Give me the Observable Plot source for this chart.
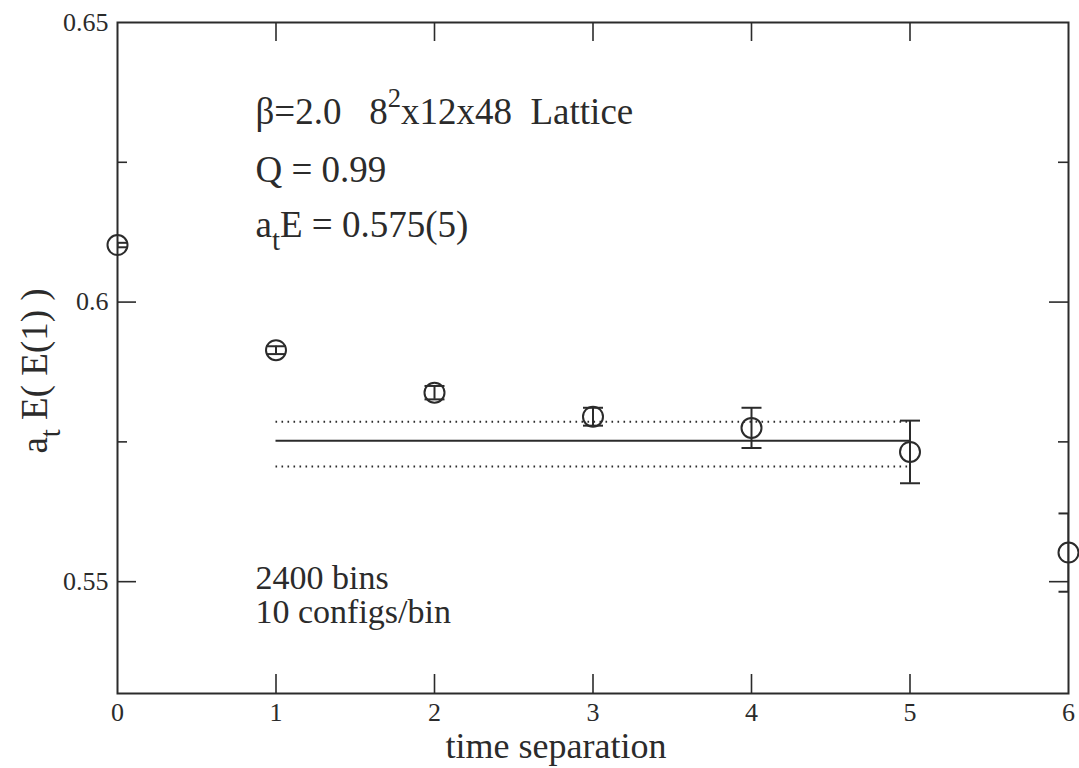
<!DOCTYPE html>
<html><head><meta charset="utf-8">
<script src="https://cdn.jsdelivr.net/npm/d3@7"></script>
<script src="https://cdn.jsdelivr.net/npm/@observablehq/plot@0.6"></script>
<style>
html,body{margin:0;padding:0;background:#fff;}
#chart{position:absolute;left:0;top:0;}
#chart svg, #chart svg text{font-family:"Liberation Serif", serif !important;}
</style></head><body><div id="chart"></div>
<script>
// ---- data ----
const times    = [0, 1, 2, 3, 4, 5, 6];
const energies = [0.6102, 0.5914, 0.5838, 0.5795, 0.5775, 0.5732, 0.5552];
const errors   = [0.0004, 0.0007, 0.0012, 0.0016, 0.0036, 0.0056, 0.0070];
const fitValue = [0.5752];
const fitBand  = [0.5706, 0.5786];
const fitRange = [1, 5];
const xTickValues = [0, 1, 2, 3, 4, 5, 6];
const xInnerTicks = [1, 2, 3, 4, 5];
const yMajorTicks = [0.55, 0.6, 0.65];
const yInnerMajor = [0.55, 0.6];
const yMinorTicks = [0.575, 0.625];
const xLabel = "time separation";
const yLabel = "a_{t} E( E(1) )";
const infoLines = ["\u03b2=2.0   8^{2}x12x48  Lattice", "Q = 0.99", "a_{t}E = 0.575(5)"];
const statLines = ["2400 bins", "10 configs/bin"];

const points = times.map((t, i) => ({t, v: energies[i], e: errors[i]}));

// ---- layout ----
const W = 1079, H = 768;
const mL = 117, mR = 11, mT = 22, mB = 75;
const innerW = W - mL - mR, innerH = H - mT - mB;
const ink = "#2b2b2b";
const serif = "Liberation Serif";
const infoDy = [90, 148, 203];
const statDy = [556, 590];

const capSymbol = {draw(ctx, size) { const r = Math.sqrt(size / Math.PI); ctx.moveTo(-r, 0); ctx.lineTo(r, 0); }};

const textOpts = {frameAnchor: "top-left", textAnchor: "start", lineAnchor: "middle", fill: ink, fontFamily: serif};

const chart = Plot.plot({
  width: W, height: H,
  marginLeft: mL, marginRight: mR, marginTop: mT, marginBottom: mB,
  style: {fontFamily: serif, background: "#fff", color: ink},
  x: {domain: [0, 6], axis: null},
  y: {domain: [0.53, 0.65], axis: null},
  marks: [
    // tick labels
    Plot.axisX(xTickValues, {anchor: "bottom", tickSize: 0, tickPadding: 9, fontSize: 26, fontFamily: serif, label: null, tickFormat: d => String(d), fill: ink}),
    Plot.axisY(yMajorTicks, {anchor: "left", tickSize: 0, tickPadding: 9, fontSize: 26, fontFamily: serif, label: null, tickFormat: d => String(d), fill: ink}),
    // inward ticks: bottom & top
    Plot.tickX(xInnerTicks, {x: d => d, insetTop: innerH - 19, stroke: ink, strokeWidth: 1.6}),
    Plot.tickX(xInnerTicks, {x: d => d, insetBottom: innerH - 19, stroke: ink, strokeWidth: 1.6}),
    // inward ticks: left & right (major and minor)
    Plot.tickY(yInnerMajor, {y: d => d, insetRight: innerW - 19, stroke: ink, strokeWidth: 1.6}),
    Plot.tickY(yInnerMajor, {y: d => d, insetLeft: innerW - 19, stroke: ink, strokeWidth: 1.6}),
    Plot.tickY(yMinorTicks, {y: d => d, insetRight: innerW - 10, stroke: ink, strokeWidth: 1.6}),
    Plot.tickY(yMinorTicks, {y: d => d, insetLeft: innerW - 10, stroke: ink, strokeWidth: 1.6}),
    // fit lines
    Plot.ruleY(fitValue, {y: d => d, x1: fitRange[0], x2: fitRange[1], stroke: ink, strokeWidth: 2}),
    Plot.ruleY(fitBand, {y: d => d, x1: fitRange[0], x2: fitRange[1], stroke: ink, strokeWidth: 2, strokeDasharray: "1.6,4.4"}),
    // error bars
    Plot.ruleX(points, {x: "t", y1: d => d.v - d.e, y2: d => d.v + d.e, stroke: ink, strokeWidth: 2, clip: true}),
    Plot.dot(points, {x: "t", y: d => d.v - d.e, symbol: capSymbol, r: 10, stroke: ink, strokeWidth: 2, clip: true}),
    Plot.dot(points, {x: "t", y: d => d.v + d.e, symbol: capSymbol, r: 10, stroke: ink, strokeWidth: 2, clip: true}),
    // points
    Plot.dot(points, {x: "t", y: "v", r: 10, stroke: ink, strokeWidth: 2, fill: "none"}),
    // frame
    Plot.frame({stroke: ink, strokeWidth: 2}),
    // annotations
    ...infoLines.map((s, i) => Plot.text([s], {...textOpts, text: d => d, dx: 138, dy: infoDy[i], fontSize: 37})),
    ...statLines.map((s, i) => Plot.text([s], {...textOpts, text: d => d, dx: 138, dy: statDy[i], fontSize: 34})),
    // axis titles
    Plot.text([xLabel], {text: d => d, frameAnchor: "bottom", textAnchor: "middle", lineAnchor: "middle",
      dx: -37, dy: 53, fontSize: 36, fill: ink, fontFamily: serif}),
    Plot.text([yLabel], {text: d => d, frameAnchor: "left", rotate: -90, textAnchor: "middle", lineAnchor: "middle",
      dx: -82, dy: 13, fontSize: 37, fill: ink, fontFamily: serif})
  ]
});

document.getElementById("chart").appendChild(chart);

// rich text: ^{..} superscript, _{..} subscript
d3.select(chart).selectAll("text").each(function() {
  const s = this.textContent;
  if (!/[\^_]\{/.test(s)) return;
  const parts = s.split(/([\^_]\{[^}]*\})/).filter(p => p.length);
  const el = d3.select(this); el.text(null);
  for (const p of parts) {
    if (p.startsWith("^{")) {
      el.append("tspan").attr("font-size", "72%").attr("baseline-shift", "62%").text(p.slice(2, -1));
    } else if (p.startsWith("_{")) {
      el.append("tspan").attr("font-size", "78%").attr("baseline-shift", "-45%").text(p.slice(2, -1));
    } else {
      el.append("tspan").text(p);
    }
  }
});
</script>
</body></html>
